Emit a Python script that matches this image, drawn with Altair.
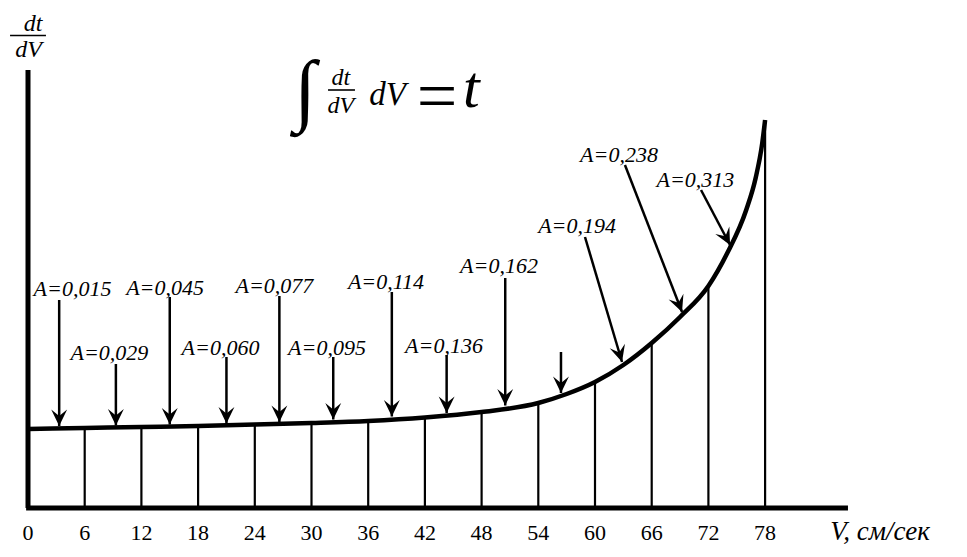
import math
import altair as alt
import pandas as pd

# ---------------- data ----------------
# curve dt/dV (arbitrary units) against V
curve_v = [0, 6, 12, 18, 24, 30, 36, 42, 48, 54, 57, 60, 63, 66, 69, 72, 74, 76, 77, 77.7, 78]
curve_h = [0.79, 0.80, 0.81, 0.82, 0.835, 0.85, 0.87, 0.905, 0.96, 1.05, 1.14, 1.26,
           1.43, 1.65, 1.91, 2.22, 2.55, 2.98, 3.30, 3.65, 3.88]

# vertical ordinates drawn under the curve
grid_v = [6, 12, 18, 24, 30, 36, 42, 48, 54, 60, 66, 72, 78]

# x tick labels
tick_v = [0, 6, 12, 18, 24, 30, 36, 42, 48, 54, 60, 66, 72, 78]
tick_text = ["0", "6", "12", "18", "24", "30", "36", "42", "48", "54", "60", "66", "72", "78"]

# arrows: start (v0,h0) -> tip (v1,h1)
arrow_v0 = [3.3, 9.3, 15.0, 21.0, 26.6, 32.3, 38.5, 44.3, 50.5, 56.4, 58.94, 63.17, 71.22]
arrow_h0 = [2.08, 1.44, 2.11, 1.51, 2.12, 1.51, 2.16, 1.53, 2.30, 1.56, 2.71, 3.43, 3.18]
arrow_v1 = [3.3, 9.3, 15.0, 21.0, 26.6, 32.3, 38.5, 44.3, 50.5, 56.4, 62.86, 69.21, 74.29]
arrow_h1 = [0.82, 0.825, 0.835, 0.845, 0.86, 0.885, 0.915, 0.95, 1.025, 1.15, 1.46, 1.96, 2.63]

# arrow labels
label_text = ["A=0,015", "A=0,029", "A=0,045", "A=0,060", "A=0,077", "A=0,095",
              "A=0,114", "A=0,136", "A=0,162", "A=0,194", "A=0,238", "A=0,313"]
label_v = [4.71, 8.62, 14.5, 20.37, 26.08, 31.64, 37.88, 44.02, 49.84, 58.1, 62.54, 70.63]
label_h = [2.12, 1.48, 2.13, 1.53, 2.15, 1.53, 2.19, 1.55, 2.35, 2.75, 3.46, 3.21]

# axis extents
axis_y_top = 4.38
axis_x_end = 86.77

# ---------------- layout / scales ----------------
W, H = 950, 539
PX_V = 9.45       # pixels per V unit
PX_H = 100.0      # pixels per dt/dV unit
X0 = 20           # chart-pixel position of V = 0
Y0 = 500          # chart-pixel position of dt/dV = 0
xs = alt.Scale(domain=[-X0 / PX_V, (W - X0) / PX_V], nice=False, zero=False)
ys = alt.Scale(domain=[(Y0 - H) / PX_H, Y0 / PX_H], nice=False, zero=False)

X = lambda f: alt.X(f, type="quantitative", scale=xs, axis=None)
Y = lambda f: alt.Y(f, type="quantitative", scale=ys, axis=None)

SERIF = "Liberation Serif"

# axes
axes_df = pd.DataFrame({"x": [0, -0.2], "x2": [0, axis_x_end], "y": [0, 0], "y2": [axis_y_top, 0]})
axes = alt.Chart(axes_df).mark_rule(color="black", strokeWidth=5, strokeCap="butt").encode(
    x=X("x"), x2="x2", y=Y("y"), y2="y2")

# ordinates
lookup = dict(zip(curve_v, curve_h))
grid_df = pd.DataFrame({"v": grid_v, "h0": [0] * len(grid_v), "h": [lookup[g] for g in grid_v]})
grid = alt.Chart(grid_df).mark_rule(color="black", strokeWidth=2.2).encode(
    x=X("v"), y=Y("h0"), y2="h")

# curve
curve_df = pd.DataFrame({"v": curve_v, "h": curve_h})
curve = alt.Chart(curve_df).mark_line(color="black", strokeWidth=4.5, interpolate="monotone").encode(
    x=X("v"), y=Y("h"), order="v:Q")

# arrows
angles = []
for a, b, c, d in zip(arrow_v0, arrow_h0, arrow_v1, arrow_h1):
    dx = (c - a) * PX_V
    dy = (b - d) * PX_H
    angles.append(math.degrees(math.atan2(-dx, dy)) % 360)
arr_df = pd.DataFrame({"v0": arrow_v0, "h0": arrow_h0, "v1": arrow_v1, "h1": arrow_h1, "ang": angles})
shafts = alt.Chart(arr_df).mark_rule(color="black", strokeWidth=2.5).encode(
    x=X("v0"), y=Y("h0"), x2="v1", y2="h1")
HEAD = "M0,0L-0.48,-1L0,-0.6L0.48,-1Z"
heads = alt.Chart(arr_df).mark_point(shape=HEAD, filled=True, color="black", opacity=1,
                                     size=1100, strokeWidth=0).encode(
    x=X("v1"), y=Y("h1"), angle=alt.Angle("ang:Q", scale=None))

# arrow labels
lab_df = pd.DataFrame({"t": label_text, "v": label_v, "h": label_h})
labels = alt.Chart(lab_df).mark_text(font=SERIF, fontStyle="italic", fontSize=22,
                                     align="center", baseline="alphabetic", color="black").encode(
    x=X("v"), y=Y("h"), text="t:N")

# tick labels
tick_df = pd.DataFrame({"t": tick_text, "v": tick_v, "h": [-0.32] * len(tick_v)})
ticks = alt.Chart(tick_df).mark_text(font=SERIF, fontSize=22, align="center",
                                     baseline="alphabetic", color="black").encode(
    x=X("v"), y=Y("h"), text="t:N")


def txt(s, v, h, size, style="italic", align="center", font=SERIF, weight="normal"):
    df = pd.DataFrame({"t": [s], "v": [v], "h": [h]})
    return alt.Chart(df).mark_text(font=font, fontStyle=style, fontSize=size, fontWeight=weight,
                                   align=align, baseline="alphabetic", color="black").encode(
        x=X("v"), y=Y("h"), text="t:N")


def hline(v0, v1, h, w=1.6):
    df = pd.DataFrame({"v0": [v0], "v1": [v1], "h": [h]})
    return alt.Chart(df).mark_rule(color="black", strokeWidth=w).encode(
        x=X("v0"), x2="v1", y=Y("h"))


xlabel = txt("V, см/сек", 84.9, -0.32, 27, align="left")

# y-axis label dt/dV
ylab = [txt("dt", 0.53, 4.77, 24), hline(-1.9, 1.9, 4.725), txt("dV", 0.05, 4.51, 24)]

# formula
formula = [
    txt("∫", 29.3, 3.92, 80, style="normal"),
    txt("dt", 33.1, 4.23, 24),
    hline(31.75, 34.6, 4.18),
    txt("dV", 33.1, 3.955, 24),
    txt("dV", 38.04, 4.03, 33),
    txt("=", 43.28, 3.88, 72, style="normal"),
    txt("t", 46.9, 4.01, 60),
]

chart = alt.layer(axes, grid, curve, shafts, heads, labels, ticks, xlabel, *ylab, *formula).properties(
    width=W, height=H, padding=0, autosize=alt.AutoSizeParams(type="none")
).configure_view(stroke=None)

chart.save("out.html", embed_options={"renderer": "svg", "actions": False})
